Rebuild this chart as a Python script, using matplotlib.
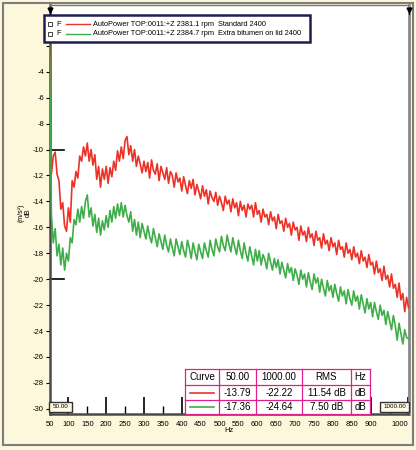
import matplotlib

matplotlib.use('Agg')
import matplotlib.pyplot as plt
from matplotlib.patches import Rectangle
import numpy as np

plt.rcParams['font.family'] = ['Liberation Sans', 'DejaVu Sans']
plt.rcParams['axes.unicode_minus'] = False

# frecuencias (Hz) cada 5 Hz
hz = np.arange(50, 1001, 5)

# AutoPower Standard 2400 (dB), 50..1000 Hz
red_db = [
    -1.5, -11.9, -10.5, -10.2, -11.9, -12.4, -14.6, -14.1, -15.9, -16.3,   # 50-95
    -14.5, -15.6, -12.4, -12.9, -11.7, -12.2, -10.5, -10.9, -9.8, -10.5,   # 100-145
    -9.5, -10.9, -10.0, -11.2, -10.4, -12.3, -11.3, -12.9, -11.5, -12.3,   # 150-195
    -11.3, -12.6, -11.4, -12.1, -10.9, -11.6, -10.1, -10.9, -9.8, -10.7,   # 200-245
    -9.3, -9.0, -10.4, -9.7, -10.9, -10.0, -11.3, -10.5, -11.1, -11.8,     # 250-295
    -10.9, -11.7, -11.0, -12.2, -10.8, -11.6, -11.9, -11.1, -12.4, -11.3,  # 300-345
    -11.8, -12.3, -11.4, -12.6, -11.7, -12.0, -12.9, -11.8, -12.5, -12.2,  # 350-395
    -13.2, -12.1, -12.8, -13.4, -12.4, -13.0, -12.3, -13.5, -12.7, -13.2,  # 400-445
    -13.8, -12.8, -13.6, -13.1, -14.2, -13.2, -13.7, -14.0, -13.3, -14.3,  # 450-495
    -13.6, -14.1, -14.7, -13.6, -14.2, -13.9, -14.8, -13.8, -14.5, -14.1,  # 500-545
    -15.1, -14.0, -14.7, -14.3, -15.2, -14.2, -14.6, -14.3, -15.2, -14.1,  # 550-595
    -15.0, -14.7, -15.6, -14.6, -15.2, -15.0, -15.8, -14.8, -15.5, -15.2,  # 600-645
    -16.1, -15.0, -15.7, -15.5, -16.3, -15.3, -16.0, -15.7, -16.6, -15.6,  # 650-695
    -16.2, -16.0, -17.0, -15.9, -16.6, -16.3, -17.1, -16.0, -16.8, -16.5,  # 700-745
    -17.4, -16.3, -17.0, -16.8, -17.6, -16.5, -17.3, -17.0, -17.8, -16.8,  # 750-795
    -17.5, -17.2, -18.1, -17.0, -17.7, -17.5, -18.3, -17.2, -18.0, -17.7,  # 800-845
    -18.5, -17.5, -18.3, -18.0, -18.8, -17.8, -18.6, -18.3, -19.1, -18.1,  # 850-895
    -18.9, -18.7, -19.6, -18.6, -19.5, -19.2, -20.1, -19.0, -20.0, -19.7,  # 900-945
    -20.6, -19.6, -20.7, -20.4, -21.4, -20.3, -21.6, -21.1, -22.5, -21.4,  # 950-995
    -22.2,                                                                  # 1000
]

# AutoPower Extra bitumen on lid 2400 (dB), 50..1000 Hz
green_db = [
    -1.8, -15.0, -17.2, -16.1, -18.2, -17.3, -18.9, -17.6, -19.3, -18.0,   # 50-95
    -18.6, -16.8, -17.2, -15.4, -15.8, -14.6, -15.6, -14.4, -15.3, -14.0,  # 100-145
    -13.5, -15.2, -14.5, -15.9, -15.0, -16.4, -15.3, -16.6, -15.5, -16.2,  # 150-195
    -15.1, -16.0, -14.7, -15.6, -14.4, -15.3, -14.2, -15.1, -14.1, -15.2,  # 200-245
    -14.3, -15.1, -15.6, -14.8, -16.3, -15.4, -16.6, -15.6, -16.8, -15.7,  # 250-295
    -16.3, -16.9, -15.9, -16.7, -17.2, -16.1, -16.8, -17.5, -16.5, -17.1,  # 300-345
    -17.7, -16.6, -17.4, -17.9, -16.9, -17.6, -18.2, -16.9, -17.5, -18.1,  # 350-395
    -17.1, -17.8, -18.3, -17.0, -17.6, -18.4, -17.2, -17.9, -18.5, -17.3,  # 400-445
    -17.9, -18.4, -17.2, -17.8, -18.3, -17.0, -17.7, -18.2, -16.9, -17.5,  # 450-495
    -17.9, -16.7, -17.4, -17.8, -16.6, -17.3, -17.9, -16.8, -17.5, -18.1,  # 500-545
    -17.0, -17.8, -18.4, -17.2, -18.0, -18.6, -17.5, -18.2, -18.9, -17.7,  # 550-595
    -18.6, -17.8, -18.9, -18.1, -18.5, -19.2, -18.0, -18.7, -19.3, -18.4,  # 600-645
    -19.1, -18.5, -19.6, -18.7, -19.3, -19.9, -18.8, -19.5, -19.1, -20.1,  # 650-695
    -19.2, -19.7, -20.4, -19.3, -20.0, -19.6, -20.6, -19.5, -20.2, -20.8,  # 700-745
    -19.6, -20.3, -19.9, -21.0, -20.0, -20.7, -21.3, -20.1, -20.9, -20.5,  # 750-795
    -21.4, -20.4, -21.1, -21.7, -20.6, -21.3, -20.9, -21.9, -20.8, -21.5,  # 800-845
    -22.0, -20.9, -21.7, -21.3, -22.3, -21.2, -21.9, -22.6, -21.5, -22.3,  # 850-895
    -21.8, -22.9, -21.8, -22.5, -23.1, -22.0, -22.8, -22.4, -23.5, -22.5,  # 900-945
    -23.2, -23.9, -22.8, -23.6, -24.7, -23.4, -24.2, -25.0, -23.9, -24.5,  # 950-995
    -24.6,                                                                  # 1000
]

legend_labels = ["AutoPower TOP:0011:+Z 2381.1 rpm  Standard 2400",
                 "AutoPower TOP:0011:+Z 2384.7 rpm  Extra bitumen on lid 2400"]
table_cols = ["Curve", "50.00", "1000.00", "RMS", "Hz"]
val_50 = ["-13.79", "-17.36"]
val_1000 = ["-22.22", "-24.64"]
val_rms = ["11.54 dB", "7.50 dB"]
val_unit = ["dB", "dB"]

RED = '#ec3226'
GREEN = '#3fae49'
W, H = 416, 450

fig = plt.figure(figsize=(W / 100, H / 100), dpi=100, facecolor='#fdf8dc')

# Grafico principal
ax = fig.add_axes([49.5 / W, 1 - 414 / H, 359 / W, 409 / H])
ax.plot(hz, red_db, color=RED, lw=1.2, zorder=3)
ax.plot(hz, green_db, color=GREEN, lw=1.2, zorder=3)
ax.set_xlim(50, 1000)
ax.set_ylim(-30.4, 1.15)

yt = np.arange(-30, -1, 2)
ax.set_yticks(yt)
ax.set_yticklabels([str(v) if v != -2 else '' for v in yt])
ax.tick_params(axis='y', direction='out', length=3, width=0.8, labelsize=5.5, pad=1)

major = np.arange(100, 1001, 100)
ax.set_xticks(major)
ax.set_xticklabels([str(v) for v in major])
ax.get_xticklabels()[-1].set_horizontalalignment('right')
minor = np.arange(50, 951, 100)
ax.set_xticks(minor, minor=True)
ax.set_xticklabels([str(v) if v != 950 else '' for v in minor], minor=True)
ax.tick_params(axis='x', which='major', direction='in', length=12, width=1.2, labelsize=5.5, pad=5)
ax.tick_params(axis='x', which='minor', direction='in', length=6, width=1.0, labelsize=5.5, pad=5)

for s in ['left', 'bottom']:
    ax.spines[s].set_color('#4a4a4a')
    ax.spines[s].set_linewidth(1.8)
ax.spines['right'].set_color('#8a8a8a')
ax.spines['right'].set_linewidth(2)
ax.spines['top'].set_color('#777777')
ax.spines['top'].set_linewidth(1)

# marcas de cursor en -10 y -20
for yv in [-10, -20]:
    ax.plot([0, 0.04], [yv, yv], color='black', lw=1.2, transform=ax.get_yaxis_transform(), clip_on=False)

# Capa para anotaciones en pixeles
ov = fig.add_axes([0, 0, 1, 1], zorder=5)
ov.set_xlim(0, W)
ov.set_ylim(H, 0)
ov.axis('off')
ov.patch.set_alpha(0)

ov.add_patch(Rectangle((3, 3), 410, 442, fill=False, ec='#7d7d7d', lw=1.5))

ov.text(21, 213, "(m/s²)", rotation=90, fontsize=5, ha='center', va='center')
ov.text(28, 213, "dB", rotation=90, fontsize=5, ha='center', va='center')
ov.text(229, 430, "Hz", fontsize=5.5, ha='center', va='center')

# marcadores arriba
for xm in [49.5, 408.5]:
    ov.plot([xm], [10], marker='v', color='black', ms=3.5)
    ov.plot([xm, xm], [10, 14], color='black', lw=0.8)

# leyenda
ov.add_patch(Rectangle((44, 15), 266, 27, fc='white', ec='#1e1e4e', lw=1.8, zorder=6))
for i, (lab, c) in enumerate(zip(legend_labels, [RED, GREEN])):
    yy = 24 + i * 9.5
    ov.add_patch(Rectangle((48, yy - 2), 4, 4, fill=False, ec='#222222', lw=0.6, zorder=7))
    ov.text(56, yy, "F", fontsize=5.3, ha='left', va='center', zorder=7)
    ov.plot([66, 90], [yy, yy], color=c, lw=1.0, zorder=7)
    ov.text(93, yy, lab, fontsize=5.3, ha='left', va='center', zorder=7)

# cajas de cursor
for x0, w, t in [(49, 23, "50.00"), (380, 29, "1000.00")]:
    ov.add_patch(Rectangle((x0, 402), w, 10, fc='#fffbe6', ec='#333333', lw=1.0, zorder=6))
    ov.text(x0 + w / 2, 407, t, fontsize=4.5, ha='center', va='center', zorder=7)

# tabla de valores
col_x = [185, 219, 256, 302, 351, 370]
row_y = [369, 385, 400, 414]
PINK = '#e0208a'
ov.add_patch(Rectangle((col_x[0], row_y[0]), col_x[-1] - col_x[0], row_y[-1] - row_y[0],
                       fc='white', ec='none', zorder=6))
for xv in col_x:
    ov.plot([xv, xv], [row_y[0], row_y[-1]], color=PINK, lw=0.9, zorder=7)
for yv in row_y:
    ov.plot([col_x[0], col_x[-1]], [yv, yv], color=PINK, lw=0.9, zorder=7)

for j, t in enumerate(table_cols):
    cx = (col_x[j] + col_x[j + 1]) / 2
    ov.text(cx, (row_y[0] + row_y[1]) / 2, t, fontsize=7, ha='center', va='center', zorder=8)
for i, c in enumerate([RED, GREEN]):
    cy = (row_y[i + 1] + row_y[i + 2]) / 2
    ov.plot([190, 214], [cy, cy], color=c, lw=1.2, zorder=8)
    for j, t in enumerate([val_50[i], val_1000[i], val_rms[i], val_unit[i]]):
        cx = (col_x[j + 1] + col_x[j + 2]) / 2
        ov.text(cx, cy, t, fontsize=7, ha='center', va='center', zorder=8)

plt.savefig('out.png', dpi=100, facecolor=fig.get_facecolor())
plt.close()
